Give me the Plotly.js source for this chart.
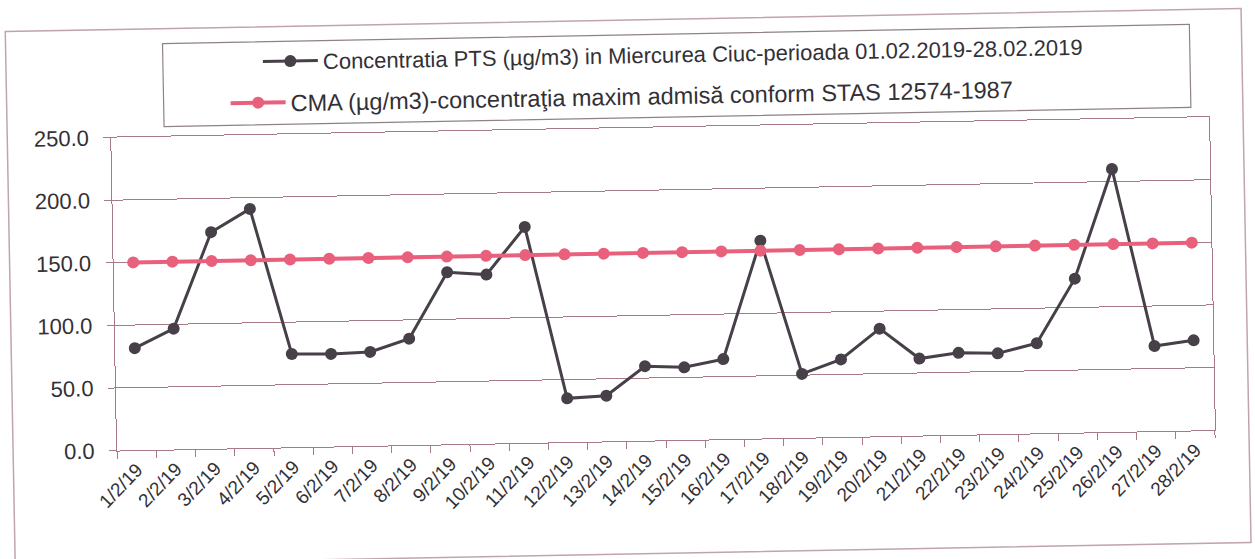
<!DOCTYPE html>
<html>
<head>
<meta charset="utf-8">
<script src="https://cdn.plot.ly/plotly-3.0.1.min.js"></script>
<style>
  html, body { margin: 0; padding: 0; background: #ffffff; overflow: hidden; }
  #chart { width: 1255px; height: 559px; transform: rotate(-1.07deg); transform-origin: 627.5px 279.5px; }
</style>
</head>
<body>
<div id="chart"></div>
<script>
// ---- data ----
const dates = ['1/2/19','2/2/19','3/2/19','4/2/19','5/2/19','6/2/19','7/2/19','8/2/19','9/2/19','10/2/19',
  '11/2/19','12/2/19','13/2/19','14/2/19','15/2/19','16/2/19','17/2/19','18/2/19','19/2/19','20/2/19',
  '21/2/19','22/2/19','23/2/19','24/2/19','25/2/19','26/2/19','27/2/19','28/2/19'];
const ptsValues = [81.5, 96.5, 173, 191, 74.5, 74, 75, 85, 137.5, 135,
  172.5, 35, 36.5, 59.5, 58, 64, 158, 51, 62, 86,
  61.5, 65.5, 64.5, 72, 123, 210, 68, 72];
const cmaValues = [150, 150, 150, 150, 150, 150, 150, 150, 150, 150,
  150, 150, 150, 150, 150, 150, 150, 150, 150, 150,
  150, 150, 150, 150, 150, 150, 150, 150];
const yTicks = [0, 50, 100, 150, 200, 250];
const ptsName = 'Concentratia PTS (µg/m3) in Miercurea Ciuc-perioada 01.02.2019-28.02.2019';
const cmaName = 'CMA (µg/m3)-concentraţia maxim admisă conform STAS 12574-1987';

// ---- layout geometry (pixels of the 1255x559 page) ----
const W = 1255, H = 559;
const M = { l: 114, r: 43, t: 128, b: 118 };
const pw = W - M.l - M.r, ph = H - M.t - M.b;
const px = x => (x - M.l) / pw;
const py = y => (H - M.b - y) / ph;

const FONT = 'Liberation Sans, Arial, sans-serif';
const TXT = '#333036';
const GRID = '#a87a86';

const traces = [
  {
    x: dates, y: ptsValues, type: 'scatter', mode: 'lines+markers', name: ptsName,
    line: { color: '#474049', width: 3 },
    marker: { color: '#474049', size: 12, symbol: 'circle' },
    legend: 'legend', cliponaxis: false
  },
  {
    x: dates, y: cmaValues, type: 'scatter', mode: 'lines+markers', name: cmaName,
    line: { color: '#e9607c', width: 4 },
    marker: { color: '#e9607c', size: 12, symbol: 'circle' },
    legend: 'legend2', cliponaxis: false
  }
];

const legendBase = {
  xanchor: 'left', yanchor: 'middle', bgcolor: 'rgba(0,0,0,0)', borderwidth: 0,
  itemwidth: 55
};

const layout = {
  width: W, height: H,
  margin: M,
  paper_bgcolor: '#ffffff', plot_bgcolor: '#ffffff',
  font: { family: FONT, color: TXT },
  showlegend: true,
  legend: Object.assign({}, legendBase, { x: px(262), y: py(55),
    font: { family: FONT, size: 22, color: TXT } }),
  legend2: Object.assign({}, legendBase, { x: px(229), y: py(96),
    font: { family: FONT, size: 23.5, color: TXT } }),
  xaxis: {
    type: 'category', range: [-0.5, 27.5], autorange: false,
    tickson: 'boundaries', ticks: 'outside', ticklen: 7, tickcolor: GRID,
    tickangle: -45, tickfont: { family: FONT, size: 19, color: TXT },
    showline: true, linecolor: GRID, linewidth: 1, mirror: true,
    showgrid: false, zeroline: false, fixedrange: true
  },
  yaxis: {
    range: [0, 250], autorange: false, tickvals: yTicks, tickformat: '.1f',
    ticks: 'outside', ticklen: 7, tickcolor: GRID, ticklabelstandoff: 10,
    tickfont: { family: FONT, size: 22, color: TXT },
    showline: true, linecolor: GRID, linewidth: 1, mirror: true,
    showgrid: true, gridcolor: GRID, gridwidth: 1, zeroline: false, fixedrange: true
  },
  shapes: [
    { type: 'rect', xref: 'paper', yref: 'paper', x0: px(10), x1: px(1246), y0: py(554), y1: py(20),
      line: { color: '#c0a4ac', width: 1.5 }, fillcolor: 'rgba(0,0,0,0)', layer: 'below' },
    { type: 'rect', xref: 'paper', yref: 'paper', x0: px(167), x1: px(1194), y0: py(118), y1: py(35),
      line: { color: '#8e8288', width: 1.2 }, fillcolor: 'rgba(0,0,0,0)', layer: 'below' }
  ]
};

Plotly.newPlot('chart', traces, layout, { displayModeBar: false, staticPlot: true });
</script>
</body>
</html>
